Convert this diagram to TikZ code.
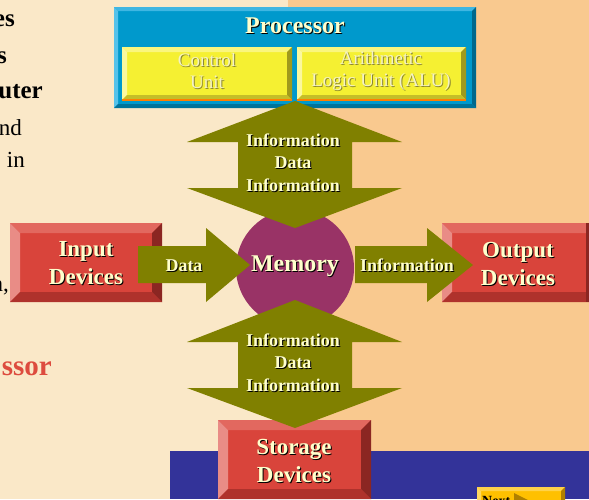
\documentclass[tikz,border=0pt]{standalone}
\usepackage{fontspec}
\setmainfont{Liberation Serif}
\definecolor{cream}{HTML}{FAE8C8}
\definecolor{peach}{HTML}{F9C98F}
\definecolor{navy}{HTML}{333399}
\definecolor{olive}{HTML}{808000}
\definecolor{memc}{HTML}{993366}
\definecolor{labelc}{HTML}{FFFFCC}
\definecolor{embtext}{HTML}{F4F2C4}
\definecolor{embshade}{HTML}{8A8630}
\definecolor{sidered}{HTML}{DD4B3E}
% bevel colours: face, top, left, right, bottom
\definecolor{redface}{HTML}{D9443B}
\definecolor{redtop}{HTML}{E2685F}
\definecolor{redleft}{HTML}{E98C86}
\definecolor{redright}{HTML}{8B2622}
\definecolor{redbot}{HTML}{AF322C}
\definecolor{blueface}{HTML}{0099CC}
\definecolor{bluetop}{HTML}{3FB6E2}
\definecolor{blueleft}{HTML}{55C2EA}
\definecolor{blueright}{HTML}{00688C}
\definecolor{bluebot}{HTML}{00739A}
\definecolor{yelface}{HTML}{F5F032}
\definecolor{yeltop}{HTML}{FAF67E}
\definecolor{yelleft}{HTML}{FBF89E}
\definecolor{yelright}{HTML}{A09A1C}
\definecolor{yelbot}{HTML}{C4BE28}
\definecolor{nextface}{HTML}{FFC000}
\definecolor{nexttop}{HTML}{FFD24A}
\definecolor{nextleft}{HTML}{FFD860}
\definecolor{nextright}{HTML}{B08000}
\definecolor{nextbot}{HTML}{D09A00}
% x1,y1,x2,y2,bevel,colour prefix
\newcommand\bevbox[6]{%
  \fill[#6face] (#1,#2) rectangle (#3,#4);
  \fill[#6top] (#1,#2) -- (#3,#2) -- ({#3-#5},{#2+#5}) -- ({#1+#5},{#2+#5}) -- cycle;
  \fill[#6left] (#1,#2) -- ({#1+#5},{#2+#5}) -- ({#1+#5},{#4-#5}) -- (#1,#4) -- cycle;
  \fill[#6right] (#3,#2) -- (#3,#4) -- ({#3-#5},{#4-#5}) -- ({#3-#5},{#2+#5}) -- cycle;
  \fill[#6bot] (#1,#4) -- (#3,#4) -- ({#3-#5},{#4-#5}) -- ({#1+#5},{#4-#5}) -- cycle;}
\newcommand\shd[1]{\rlap{\kern1pt\raisebox{-1pt}{\color{black}#1}}#1}
\newcommand\emb[1]{\rlap{\kern1pt\raisebox{-1pt}{\color{embshade}#1}}#1}

\begin{document}
\begin{tikzpicture}[x=1pt, y=-1pt,
  lbl/.style={text=labelc, font=\bfseries\fontsize{23}{28}\selectfont, align=center, inner sep=0pt},
  small/.style={lbl, font=\bfseries\fontsize{18}{22.5}\selectfont},
  unitlbl/.style={text=embtext, font=\fontsize{19}{22}\selectfont, align=center, inner sep=0pt},
  side/.style={anchor=base east, inner sep=0pt, font=\fontsize{23}{28}\selectfont}]
  \useasboundingbox (0,0) rectangle (589,499);
  \clip (0,0) rectangle (589,499);
  % background of the slide
  \fill[cream] (0,0) rectangle (589,499);
  \fill[peach] (288,0) rectangle (589,451);
  \fill[navy] (170,451) rectangle (589,499);

  % cut off slide text on the left
  \node[side, font=\bfseries\fontsize{25}{28}\selectfont] (s1) at (15,26) {es};
  \node[side, font=\bfseries\fontsize{25}{28}\selectfont] (s2) at (7,63) {s};
  \node[side, font=\bfseries\fontsize{25}{28}\selectfont] (s3) at (43,98) {uter};
  \node[side] (s4) at (22,135) {nd};
  \node[side] (s5) at (25,167) {in};
  \node[side] (s6) at (9,291) {n,};
  \node[side, text=sidered, font=\bfseries\fontsize{29}{32}\selectfont] (s7) at (52,375) {ssor};

  % processor
  \bevbox{114}{7}{476}{108}{4}{blue}
  \bevbox{122}{47}{292}{100}{5}{yel}
  \bevbox{297}{47}{466}{100}{5}{yel}
  \fill[orange] (122,99) rectangle (292,101);
  \fill[orange] (297,99) rectangle (466,101);
  \node[lbl, font=\bfseries\fontsize{24}{28}\selectfont] (proc) at (295,26) {\shd{Processor}};
  \node[unitlbl] (cu) at (207,71) {\emb{Control}\\\emb{Unit}};
  \node[unitlbl] (alu) at (381,71) {\emb{Arithmetic}\\\emb{Logic Unit (ALU)}};

  % memory
  \fill[memc] (295,268) circle[radius=59pt];

  % devices
  \bevbox{10}{223}{162}{302}{10}{red}
  \bevbox{442}{223}{599}{302}{10}{red}
  \bevbox{218}{420}{371}{499}{10}{red}
  \fill[redright] (586,223) rectangle (589,302);
  \node[lbl] (in) at (86,264) {\shd{Input}\\\shd{Devices}};
  \node[lbl] (out) at (518,264) {\shd{Output}\\\shd{Devices}};
  \node[lbl] (sto) at (294,461) {\shd{Storage}\\\shd{Devices}};

  % double arrows
  \fill[olive] (295,101) -- (402,142) -- (352,142) -- (352,188) -- (402,188) -- (295,228)
    -- (187,188) -- (238,188) -- (238,142) -- (187,142) -- cycle;
  \fill[olive] (295,300) -- (402,342) -- (352,342) -- (352,388) -- (402,388) -- (295,428)
    -- (187,388) -- (238,388) -- (238,342) -- (187,342) -- cycle;
  % single arrows
  \fill[olive] (138,246) -- (206,246) -- (206,228) -- (250,265) -- (206,302) -- (206,283)
    -- (138,283) -- cycle;
  \fill[olive] (355,246) -- (427,246) -- (427,228) -- (473,265) -- (427,302) -- (427,283)
    -- (355,283) -- cycle;

  \node[small] (up) at (293,163) {\shd{Information}\\\shd{Data}\\\shd{Information}};
  \node[small] (down) at (293,363) {\shd{Information}\\\shd{Data}\\\shd{Information}};
  \node[small] (dat) at (184,266) {\shd{Data}};
  \node[small] (info) at (407,266) {\shd{Information}};
  \node[lbl, font=\bfseries\fontsize{24}{28}\selectfont] (mem) at (295,267) {\shd{Memory}};

  % next button, mostly below the edge
  \bevbox{477}{487}{565}{520}{4}{next}
  \node[anchor=north west, inner sep=0pt, font=\bfseries\fontsize{14}{16}\selectfont] (nxt) at (482,496) {Next};
  \fill[nextright] (514,493) -- (530,501) -- (514,509) -- cycle;
\end{tikzpicture}
\end{document}
